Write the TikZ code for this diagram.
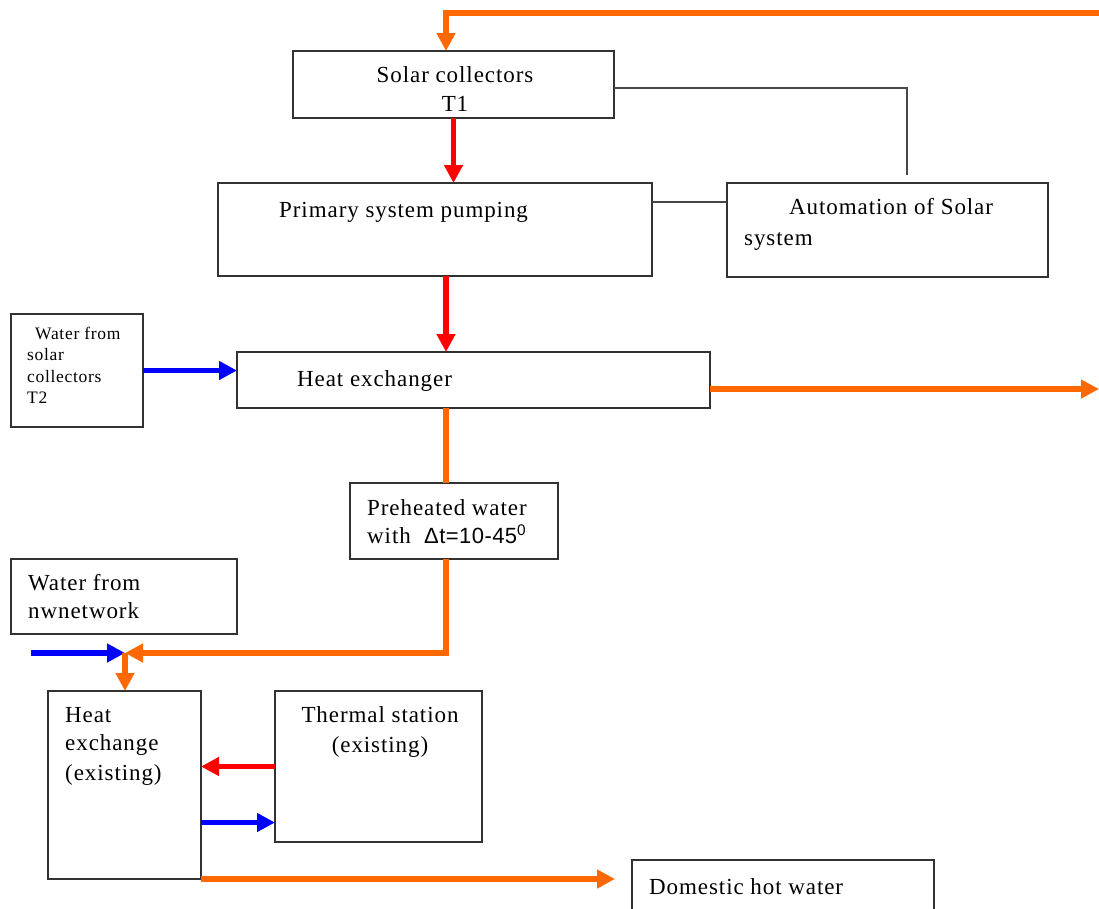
\documentclass[tikz,border=0pt]{standalone}
\usepackage{fontspec}
\setmainfont{Liberation Serif}[LetterSpace=4]
\newfontfamily\sansarial{Liberation Sans}[LetterSpace=2]
\usetikzlibrary{arrows.meta,calc}
\definecolor{flowor}{RGB}{255,104,0}
\definecolor{flowred}{RGB}{255,0,0}
\definecolor{flowblue}{RGB}{0,0,255}
\definecolor{boxline}{RGB}{50,50,50}
\definecolor{ctrlline}{RGB}{70,70,70}
\begin{document}
\begin{tikzpicture}[x=1pt,y=-1pt,
  box/.style={draw=boxline, line width=1.4pt, inner sep=0pt, outer sep=0pt, anchor=north west},
  lbl/.style={anchor=base west, inner sep=0pt, font=\fontsize{23}{27}\selectfont},
  clbl/.style={anchor=base, inner sep=0pt, font=\fontsize{23}{27}\selectfont},
  slbl/.style={anchor=base west, inner sep=0pt, font=\fontsize{17.5}{20}\selectfont},
  flow/.style={line width=5.5pt, line join=miter, -{Triangle[length=18pt,width=18pt]}},
  oflow/.style={flow, draw=flowor},
  rflow/.style={flow, draw=flowred},
  bflow/.style={flow, draw=flowblue},
  oline/.style={line width=5.5pt, draw=flowor},
  ctrl/.style={draw=ctrlline, line width=1.5pt}]
\useasboundingbox (0,0) rectangle (1099,908);
\fill[white] (0,0) rectangle (1099,908);

% boxes
\node[box, minimum width=321, minimum height=67] (sc) at (293,51) {};
\node[box, minimum width=434, minimum height=93] (psp) at (218,183) {};
\node[box, minimum width=321, minimum height=94] (aut) at (727,183) {};
\node[box, minimum width=132, minimum height=113] (t2) at (11,314) {};
\node[box, minimum width=473, minimum height=56] (hx) at (237,352) {};
\node[box, minimum width=208, minimum height=76] (ph) at (350,483) {};
\node[box, minimum width=226, minimum height=75] (nw) at (11,559) {};
\node[box, minimum width=153, minimum height=188] (hxe) at (48,691) {};
\node[box, minimum width=207, minimum height=151] (ts) at (275,691) {};
\node[box, minimum width=302, minimum height=70] (dhw) at (632,860) {};

% texts
\node[clbl] (sct1) at (455,82) {Solar collectors};
\node[clbl] (sct2) at (455,111) {T1};
\node[lbl] (pspt) at (279,217) {Primary system pumping};
\node[lbl] (autt1) at (789,214) {Automation of Solar};
\node[lbl] (autt2) at (744,245) {system};
\node[slbl] (t2t1) at (35,339) {Water from};
\node[slbl] (t2t2) at (27,360) {solar};
\node[slbl] (t2t3) at (27,382) {collectors};
\node[slbl] (t2t4) at (27,403) {T2};
\node[lbl] (hxt) at (297,386) {Heat exchanger};
\node[lbl] (pht1) at (367,515) {Preheated water};
\node[lbl] (pht2) at (367,543) {with\ \ {\sansarial\fontsize{22}{25}\selectfont Δt=10-45\textsuperscript{0}}};
\node[lbl] (nwt1) at (28,590) {Water from};
\node[lbl] (nwt2) at (28,618) {nwnetwork};
\node[lbl] (hxet1) at (65,722) {Heat};
\node[lbl] (hxet2) at (65,750) {exchange};
\node[lbl] (hxet3) at (65,780) {(existing)};
\node[clbl] (tst1) at (380,722) {Thermal station};
\node[clbl] (tst2) at (380,752) {(existing)};
\node[lbl] (dhwt) at (649,894) {Domestic hot water};

% coordinates
\coordinate (topR) at (1099,13);
\coordinate (scin) at ([xshift=-7.5pt]sc.north);
\coordinate (autin) at ([xshift=19.5pt]aut.north);
\coordinate (pspout) at ([xshift=11pt]psp.south);
\coordinate (hxout) at (1099,389);
\coordinate (hxd) at ([xshift=-27.5pt]hx.south);
\coordinate (jn) at (125,653);
\coordinate (bin) at (31,653);
\coordinate (b2) at ([yshift=-56pt]ts.west);
\coordinate (dhwtip) at ([xshift=-17pt]dhw.north west);

% connectors
\draw[oflow] (topR) -- (topR -| scin) -- (scin);
\draw[ctrl] ([yshift=-3.5pt]sc.east) -- ([yshift=-3.5pt]sc.east -| autin) -- ([yshift=8pt]autin);
\draw[ctrl] ([yshift=27.5pt]psp.east) -- ([yshift=27.5pt]psp.east -| aut.west);
\draw[rflow] (sc.south) -- (sc.south |- psp.north);
\draw[rflow] (pspout) -- (pspout |- hx.north);
\draw[bflow] (t2.east) -- (t2.east -| hx.west);
\draw[oflow] (hxout -| hx.east) -- (hxout);
\draw[oline] (hxd) -- (hxd |- ph.north);
\draw[oflow] (hxd |- ph.south) -- (hxd |- jn) -- (jn);
\draw[bflow] (bin) -- (jn);
\draw[oflow] (jn) -- (jn |- hxe.north);
\draw[rflow] (ts.west) -- (ts.west -| hxe.east);
\draw[bflow] (b2 -| hxe.east) -- (b2);
\draw[oflow] (hxe.south east) -- (hxe.south east -| dhwtip);
\end{tikzpicture}
\end{document}
